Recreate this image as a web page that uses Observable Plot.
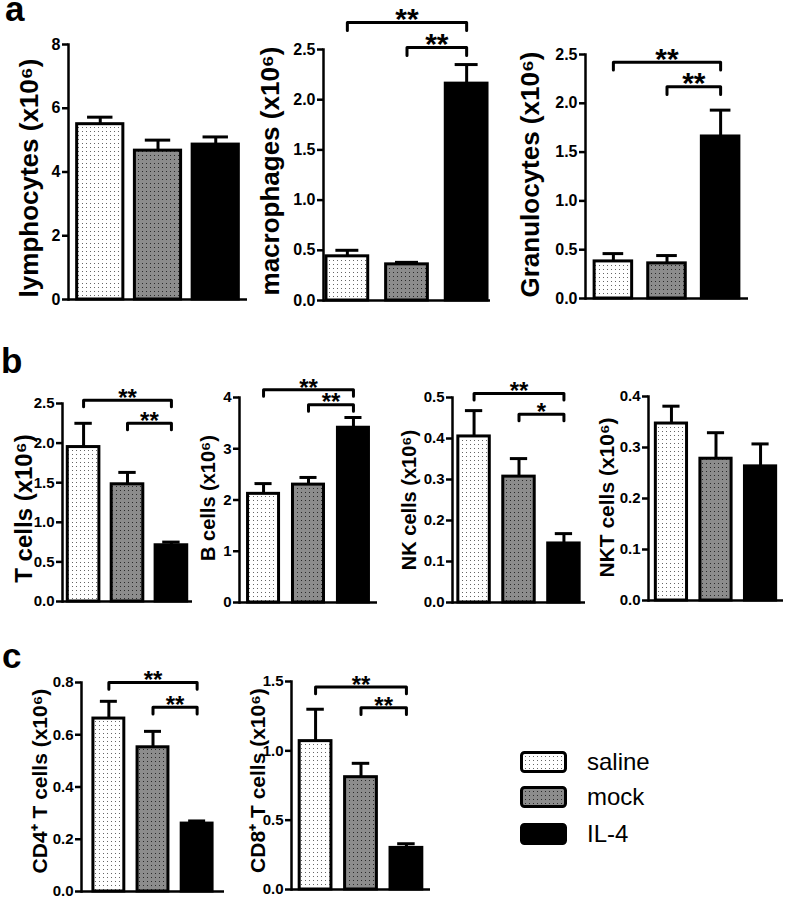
<!DOCTYPE html>
<html>
<head>
<meta charset="utf-8">
<script src="https://cdn.jsdelivr.net/npm/d3@7"></script>
<script src="https://cdn.jsdelivr.net/npm/@observablehq/plot@0.6"></script>
<style>
  body { margin: 0; background: #fff; }
  #root { position: relative; width: 787px; height: 899px; overflow: hidden; font-family: "Liberation Sans", Arial, sans-serif; color: #000; }
  .letter { position: absolute; font-weight: bold; font-size: 35px; line-height: 18px; height: 24px; }
  .legend-item { position: absolute; left: 520px; height: 22px; display: flex; align-items: center; font-size: 24px; }
  .legend-item svg { margin-right: 20px; }
</style>
</head>
<body>
<svg width="0" height="0" style="position:absolute">
  <defs>
    <pattern id="dotsSaline" width="4" height="4" patternUnits="userSpaceOnUse">
      <rect width="4" height="4" fill="#ffffff"/>
      <rect x="1" y="1" width="1" height="1" fill="#666"/>
    </pattern>
    <pattern id="dotsMock" width="4" height="4" patternUnits="userSpaceOnUse">
      <rect width="4" height="4" fill="#8c8c8c"/>
      <rect x="1" y="1" width="1" height="1" fill="#2a2a2a"/>
    </pattern>
  </defs>
</svg>
<div id="root"></div>
<script>
// ---------- data ----------
const groups = ["saline", "mock", "IL-4"];

const lymphocytesMean  = [5.5, 4.67, 4.86];
const lymphocytesUpper = [5.72, 5.0, 5.1];
const macrophagesMean  = [0.44, 0.36, 2.16];
const macrophagesUpper = [0.50, 0.38, 2.35];
const granulocytesMean  = [0.38, 0.36, 1.66];
const granulocytesUpper = [0.46, 0.44, 1.93];

const tCellsMean  = [1.95, 1.48, 0.71];
const tCellsUpper = [2.25, 1.63, 0.75];
const bCellsMean  = [2.12, 2.30, 3.41];
const bCellsUpper = [2.32, 2.44, 3.61];
const nkMean  = [0.405, 0.307, 0.144];
const nkUpper = [0.468, 0.351, 0.168];
const nktMean  = [0.347, 0.278, 0.263];
const nktUpper = [0.381, 0.329, 0.307];

const cd4Mean  = [0.662, 0.552, 0.26];
const cd4Upper = [0.728, 0.613, 0.27];
const cd8Mean  = [1.07, 0.81, 0.30];
const cd8Upper = [1.30, 0.91, 0.33];

const ticksLymph = [0, 2, 4, 6, 8];
const ticksMacro = [0, 0.5, 1, 1.5, 2, 2.5];
const ticksGran  = [0, 0.5, 1, 1.5, 2, 2.5];
const ticksT     = [0, 0.5, 1, 1.5, 2, 2.5];
const ticksB     = [0, 1, 2, 3, 4];
const ticksNK    = [0, 0.1, 0.2, 0.3, 0.4, 0.5];
const ticksNKT   = [0, 0.1, 0.2, 0.3, 0.4];
const ticksCD4   = [0, 0.2, 0.4, 0.6, 0.8];
const ticksCD8   = [0, 0.5, 1, 1.5];

const bracketsMacro = [{from: "saline", to: "IL-4", y: 2.77, text: "**"}, {from: "mock", to: "IL-4", y: 2.52, text: "**"}];
const bracketsGran  = [{from: "saline", to: "IL-4", y: 2.42, text: "**"}, {from: "mock", to: "IL-4", y: 2.17, text: "**"}];
const bracketsT     = [{from: "saline", to: "IL-4", y: 2.54, text: "**"}, {from: "mock", to: "IL-4", y: 2.25, text: "**"}];
const bracketsB     = [{from: "saline", to: "IL-4", y: 4.15, text: "**"}, {from: "mock", to: "IL-4", y: 3.86, text: "**"}];
const bracketsNK    = [{from: "saline", to: "IL-4", y: 0.51, text: "**"}, {from: "mock", to: "IL-4", y: 0.459, text: "*"}];
const bracketsCD4   = [{from: "saline", to: "IL-4", y: 0.80, text: "**"}, {from: "mock", to: "IL-4", y: 0.705, text: "**"}];
const bracketsCD8   = [{from: "saline", to: "IL-4", y: 1.46, text: "**"}, {from: "mock", to: "IL-4", y: 1.31, text: "**"}];

// ---------- styles / layout ----------
const FONT = '"Liberation Sans", Arial, sans-serif';
const fills = ["url(#dotsSaline)", "url(#dotsMock)", "#000"];
const f0 = d3.format("d"), f1 = d3.format(".1f");

const panels = [
  {label: "lymphocytes (x10⁶)", mean: lymphocytesMean, upper: lymphocytesUpper, ticks: ticksLymph, fmt: f0, brackets: [],
   frame: [68, 247, 44, 299], ymax: 8, pad: 0.2, outer: 0.15, labelSize: 26, tickSize: 16, labelDx: -39, labelDy: 6, starSize: 30, starDy: -3},
  {label: "macrophages (x10⁶)", mean: macrophagesMean, upper: macrophagesUpper, ticks: ticksMacro, fmt: f1, brackets: bracketsMacro,
   frame: [323, 490, 49, 300], ymax: 2.5, pad: 0.3, outer: 0.05, labelSize: 26, tickSize: 16, labelDx: -53, labelDy: -4, starSize: 30, starDy: -3},
  {label: "Granulocytes (x10⁶)", mean: granulocytesMean, upper: granulocytesUpper, ticks: ticksGran, fmt: f1, brackets: bracketsGran,
   frame: [585, 748, 54, 298], ymax: 2.5, pad: 0.3, outer: 0.17, labelSize: 26, tickSize: 16, labelDx: -55, labelDy: -2, starSize: 30, starDy: -3},
  {label: "T cells (x10⁶)", mean: tCellsMean, upper: tCellsUpper, ticks: ticksT, fmt: f1, brackets: bracketsT,
   frame: [62, 192, 403, 601], ymax: 2.5, pad: 0.28, outer: 0.12, labelSize: 24, tickSize: 15, labelDx: -38, labelDy: 6, starSize: 24, starDy: -2},
  {label: "B cells (x10⁶)", mean: bCellsMean, upper: bCellsUpper, ticks: ticksB, fmt: f0, brackets: bracketsB,
   frame: [239, 377, 397, 602], ymax: 4, pad: 0.31, outer: 0.19, labelSize: 20, tickSize: 15, labelDx: -31, labelDy: -2, starSize: 24, starDy: -2},
  {label: "NK cells (x10⁶)", mean: nkMean, upper: nkUpper, ticks: ticksNK, fmt: f1, brackets: bracketsNK,
   frame: [452, 585, 397, 602], ymax: 0.5, pad: 0.3, outer: 0.13, labelSize: 20, tickSize: 15, labelDx: -43, labelDy: 0, starSize: 24, starDy: -2},
  {label: "NKT cells (x10⁶)", mean: nktMean, upper: nktUpper, ticks: ticksNKT, fmt: f1, brackets: [],
   frame: [648, 783, 396, 600], ymax: 0.4, pad: 0.3, outer: 0.165, labelSize: 21, tickSize: 15, labelDx: -41, labelDy: -1, starSize: 24, starDy: -2},
  {label: "CD4⁺ T cells (x10⁶)", mean: cd4Mean, upper: cd4Upper, ticks: ticksCD4, fmt: f1, brackets: bracketsCD4,
   frame: [81, 224, 682, 891], ymax: 0.8, pad: 0.3, outer: 0.27, labelSize: 21, tickSize: 15, labelDx: -41, labelDy: -6, starSize: 24, starDy: -2},
  {label: "CD8⁺ T cells (x10⁶)", mean: cd8Mean, upper: cd8Upper, ticks: ticksCD8, fmt: f1, brackets: bracketsCD8,
   frame: [291, 430, 681, 889], ymax: 1.5, pad: 0.3, outer: 0.18, labelSize: 21, tickSize: 15, labelDx: -33, labelDy: -5, starSize: 24, starDy: -2}
];

const root = document.getElementById("root");

function makePanel(p) {
  const [fx0, fx1, fy0, fy1] = p.frame;
  const mL = 75, mR = 6, mT = 58, mB = 8;
  const width = fx1 - fx0 + mL + mR;
  const height = fy1 - fy0 + mT + mB;
  const rows = groups.map((g, i) => ({group: g, i, value: p.mean[i], upper: p.upper[i]}));
  const half = (1 - p.pad) / 2;
  const cap = half * 0.55;
  const drop = p.ymax * 0.032;
  const idx = g => groups.indexOf(g);
  const bracketPts = p.brackets.flatMap((b, k) => [
    {k, x: idx(b.from) + 0.5, y: b.y - drop},
    {k, x: idx(b.from) + 0.5, y: b.y},
    {k, x: idx(b.to) + 0.5, y: b.y},
    {k, x: idx(b.to) + 0.5, y: b.y - drop}
  ]);
  const svg = Plot.plot({
    width, height,
    marginLeft: mL, marginRight: mR, marginTop: mT, marginBottom: mB,
    style: {fontFamily: FONT, background: "transparent", overflow: "visible", color: "#000"},
    x: {type: "linear", domain: [p.pad / 2 - p.outer, 3 - p.pad / 2 + p.outer], axis: null},
    y: {domain: [0, p.ymax], axis: null},
    color: {type: "ordinal", domain: groups, range: fills},
    marks: [
      Plot.ruleX(rows, {x: d => d.i + 0.5, y1: "value", y2: "upper", stroke: "#000", strokeWidth: 3}),
      Plot.ruleY(rows, {x1: d => d.i + 0.5 - cap, x2: d => d.i + 0.5 + cap, y: "upper", stroke: "#000", strokeWidth: 3}),
      Plot.rect(rows, {x1: d => d.i + 0.5 - half, x2: d => d.i + 0.5 + half, y1: 0, y2: "value", fill: "group", stroke: "#000", strokeWidth: 3}),
      Plot.ruleY([0], {stroke: "#000", strokeWidth: 2.5}),
      Plot.frame({anchor: "left", stroke: "#000", strokeWidth: 2.5}),
      Plot.axisY({ticks: p.ticks, tickFormat: p.fmt, tickSize: 6, tickPadding: 2, stroke: "#000", strokeWidth: 2.5,
                  fontSize: p.tickSize, fontWeight: "bold", fill: "#000", label: null}),
      Plot.line(bracketPts, {x: "x", y: "y", z: "k", stroke: "#000", strokeWidth: 3, strokeLinejoin: "round"}),
      Plot.text(p.brackets, {x: b => (idx(b.from) + idx(b.to)) / 2 + 0.5, y: "y", text: "text", dy: p.starDy,
                             fontSize: p.starSize, fontWeight: "bold", fill: "#000"}),
      Plot.text([p.label], {frameAnchor: "left", textAnchor: "middle", lineAnchor: "middle", rotate: -90,
                            dx: p.labelDx, dy: p.labelDy, text: d => d,
                            fontSize: p.labelSize, fontWeight: "bold", fill: "#000"})
    ]
  });
  svg.style.position = "absolute";
  svg.style.left = (fx0 - mL) + "px";
  svg.style.top = (fy0 - mT) + "px";
  svg.style.maxWidth = "none";
  root.appendChild(svg);
}
panels.forEach(makePanel);

// panel letters
const letters = [{t: "a", x: 5, y: 0}, {t: "b", x: 1, y: 352}, {t: "c", x: 2, y: 647}];
for (const l of letters) {
  const d = document.createElement("div");
  d.className = "letter";
  d.textContent = l.t;
  d.style.left = l.x + "px";
  d.style.top = l.y + "px";
  root.appendChild(d);
}

// legend
const legendTops = [751, 786, 823];
groups.forEach((g, i) => {
  const item = document.createElement("div");
  item.className = "legend-item";
  item.style.top = legendTops[i] + "px";
  item.innerHTML = `<svg width="47" height="22"><rect x="1.5" y="1.5" width="44" height="19" rx="3" fill="${fills[i]}" stroke="#000" stroke-width="3"/></svg><span>${g}</span>`;
  root.appendChild(item);
});
</script>
</body>
</html>
